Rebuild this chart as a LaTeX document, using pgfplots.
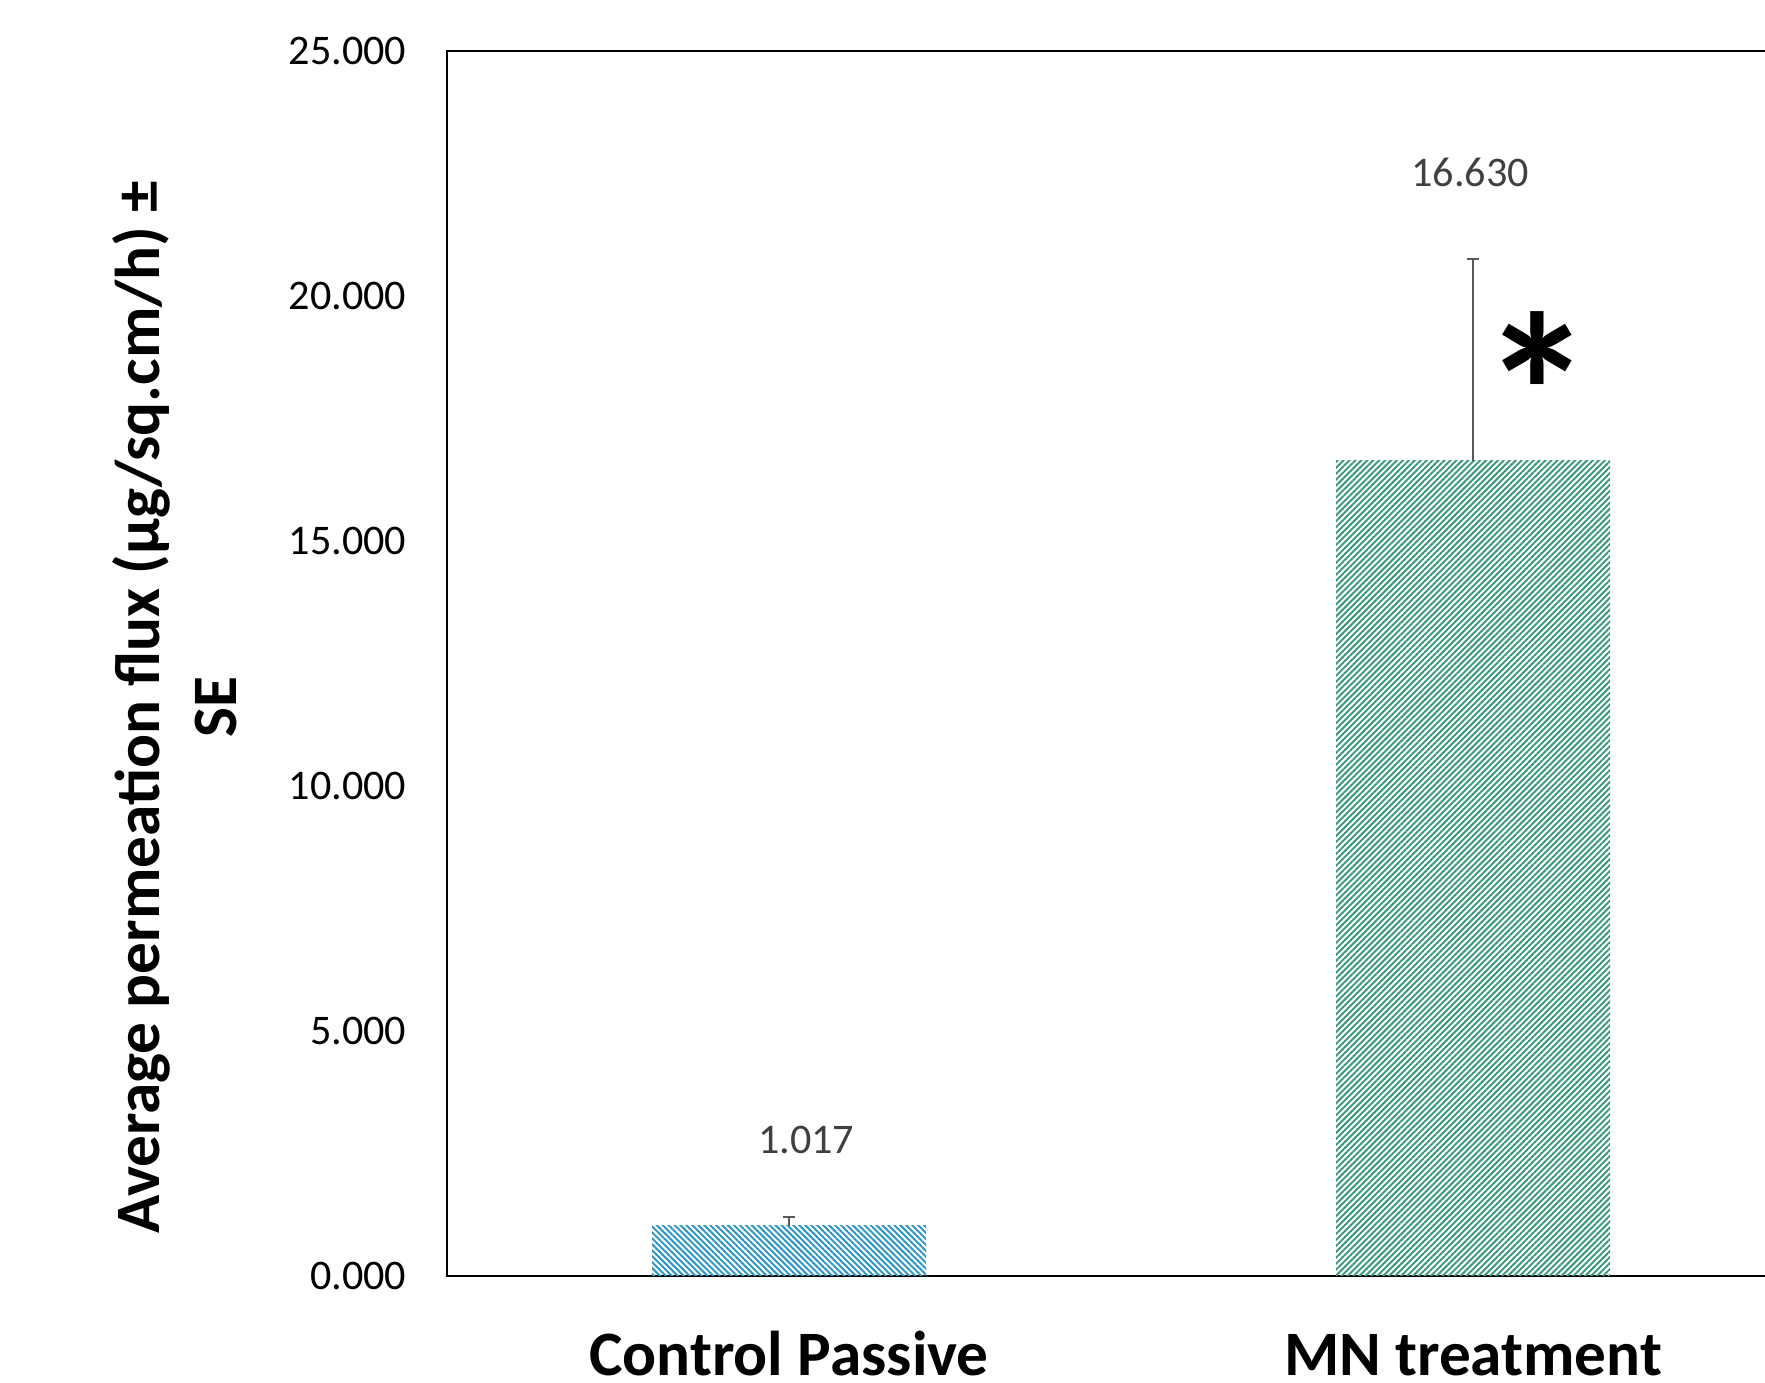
\documentclass[border=0pt]{standalone}
\usepackage{pgfplots}
\pgfplotsset{compat=1.18}
\usepackage{fontspec}
\setmainfont{Carlito}
\usetikzlibrary{patterns.meta}
\definecolor{barblue}{HTML}{2E96C4}
\definecolor{bargreen}{HTML}{3D9A78}
\definecolor{lblgray}{HTML}{404040}
\definecolor{errgray}{HTML}{595959}
\begin{document}
\begin{tikzpicture}
\begin{axis}[
  scale only axis,
  width=136.8mm, height=122.5mm,
  xmin=-0.5, xmax=1.5,
  ymin=0, ymax=25,
  ytick={0,5,10,15,20,25},
  xtick={0,1},
  xticklabels={Control Passive, MN treatment},
  major tick length=0pt,
  axis line style={line width=0.6pt, black},
  /pgf/number format/assume math mode=true,
  yticklabel={\pgfmathprintnumber[fixed,fixed zerofill,precision=3]{\tick}},
  yticklabel style={anchor=east, inner sep=0pt, xshift=-4mm, font=\fontsize{12}{14}\selectfont, text=black},
  xticklabel style={anchor=base, inner sep=0pt, yshift=-10.0mm, font=\fontsize{18}{22}\selectfont\bfseries},
  ylabel={Average permeation flux (µg/sq.cm/h) ±\\SE},
  ylabel style={at={(axis description cs:-0.1988,0.464)}, anchor=center, rotate=0, align=center, font=\fontsize{18}{22}\selectfont\bfseries},
  ybar, bar width=27.4mm, bar shift=0pt,
  clip=false,
]
\addplot[draw=none, pattern={Lines[angle=-45, distance=0.42mm, line width=0.2mm]}, pattern color=barblue,
  error bars/.cd, y dir=plus, y explicit, error mark=-, error mark options={errgray, line width=0.45pt, mark size=0.6mm, rotate=90},
  error bar style={errgray, line width=0.45pt}]
  coordinates {(0,1.017) +- (0,0.18)};
\addplot[draw=none, pattern={Lines[angle=45, distance=0.42mm, line width=0.2mm]}, pattern color=bargreen,
  error bars/.cd, y dir=plus, y explicit, error mark=-, error mark options={errgray, line width=0.45pt, mark size=0.6mm, rotate=90},
  error bar style={errgray, line width=0.45pt}]
  coordinates {(1,16.630) +- (0,4.12)};
\node[text=lblgray, font=\fontsize{12}{14}\selectfont] at (axis cs:0.025,2.77) {1.017};
\node[text=lblgray, font=\fontsize{12}{14}\selectfont] at (axis cs:0.996,22.52) {16.630};
\node[font=\fontsize{64}{66}\selectfont\bfseries, anchor=center] at (axis cs:1.094,18.04) {*};
\end{axis}
\pgfresetboundingbox
\useasboundingbox (-44.7mm,-10.65mm) rectangle (131.8mm,127.56mm);
\end{tikzpicture}
\end{document}
